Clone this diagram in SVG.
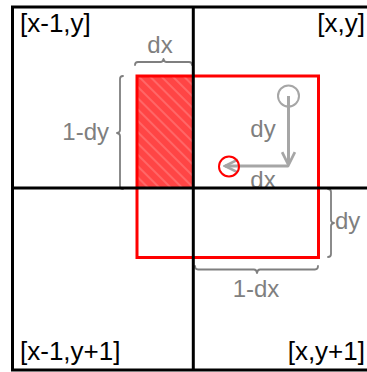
<svg xmlns="http://www.w3.org/2000/svg" width="367" height="372" viewBox="0 0 367 372">
<style>
.lbl{font-family:"Liberation Sans",Arial,sans-serif;font-size:26px;fill:#000}
.glbl{font-family:"Liberation Sans",Arial,sans-serif;font-size:24px;fill:#7f7f7f}
.brace{fill:none;stroke:#7f7f7f;stroke-width:1.8;stroke-linejoin:round;stroke-linecap:round}
.grid{fill:none;stroke:#000;stroke-width:3}
.arrow{fill:none;stroke:#a6a6a6;stroke-width:3}
</style>
<defs>
<pattern id="hatch" patternUnits="userSpaceOnUse" width="8" height="8" patternTransform="rotate(-45)">
<rect width="8" height="8" fill="#ff4545"/>
<line x1="4" y1="0" x2="4" y2="8" stroke="#ffffff" stroke-opacity="0.28" stroke-width="1.3"/>
</pattern>
<marker id="chev" viewBox="0 0 10 10" refX="9" refY="5" markerWidth="16" markerHeight="16" markerUnits="userSpaceOnUse" orient="auto">
<path d="M1,1 L9,5 L1,9" fill="none" stroke="#a6a6a6" stroke-width="1.7"/>
</marker>
</defs>
<g id="overlap-area">
<rect x="137" y="76" width="56" height="112" fill="url(#hatch)"/>
</g>
<g id="sample-square">
<rect x="137" y="76" width="181.5" height="181.5" fill="none" stroke="#ff0000" stroke-width="3"/>
</g>
<g id="connectors">
<circle cx="288.5" cy="96" r="10.5" fill="none" stroke="#a6a6a6" stroke-width="2"/>
<line class="arrow" x1="288.5" y1="96" x2="288.5" y2="165" marker-end="url(#chev)"/>
<line class="arrow" x1="288.5" y1="166" x2="225" y2="166" marker-end="url(#chev)"/>
<circle cx="229" cy="166.5" r="10" fill="none" stroke="#ff0000" stroke-width="2"/>
</g>
<g id="braces">
<path class="brace" d="M135,65 Q135,62 138,62 L160.5,62 Q163,62 163.5,59 Q164,62 166.5,62 L189,62 Q192,62 192,65"/>
<path class="brace" d="M123,76 Q120,76 120,79 L120,130 Q120,132.5 117,133 Q120,133.5 120,136 L120,186 Q120,189 123,189"/>
<path class="brace" d="M328,189 Q331,189 331,192 L331,220 Q331,222.5 334,223 Q331,223.5 331,226 L331,254 Q331,257 328,257"/>
<path class="brace" d="M195,266 Q195,269.5 198,269.5 L254,269.5 Q256.5,269.5 257,273 Q257.5,269.5 260,269.5 L315,269.5 Q318,269.5 318,266"/>
</g>
<g id="gray-labels">
<text class="glbl" x="160" y="53" text-anchor="middle">dx</text>
<text class="glbl" x="109" y="140" text-anchor="end">1-dy</text>
<text class="glbl" x="263" y="137" text-anchor="middle">dy</text>
<text class="glbl" x="263" y="188" text-anchor="middle">dx</text>
<text class="glbl" x="335" y="229" text-anchor="start">dy</text>
<text class="glbl" x="256" y="297" text-anchor="middle">1-dx</text>
</g>
<g id="grid">
<rect class="grid" x="12.5" y="7" width="356.5" height="363"/>
<line class="grid" x1="193.3" y1="7" x2="193.3" y2="370"/>
<line class="grid" x1="12.5" y1="188" x2="369" y2="188"/>
</g>
<g id="cell-x-1-y"><text class="lbl" x="20" y="32">[x-1,y]</text></g>
<g id="cell-x-y"><text class="lbl" x="365" y="32" text-anchor="end">[x,y]</text></g>
<g id="cell-x-1-y1"><text class="lbl" x="20" y="360">[x-1,y+1]</text></g>
<g id="cell-x-y1"><text class="lbl" x="365" y="360" text-anchor="end">[x,y+1]</text></g>
</svg>
